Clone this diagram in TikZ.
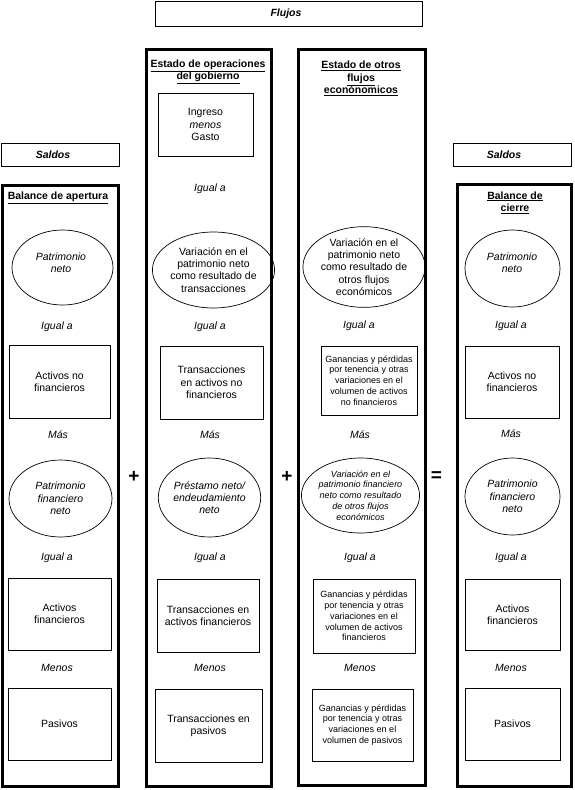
\documentclass[tikz,border=0pt]{standalone}
\usepackage{fontspec}
\setmainfont{Liberation Sans}
\usetikzlibrary{shapes.geometric}
\newcommand{\normtxt}{\fontsize{10.5}{12.3}\selectfont}
\newcommand{\smalltxt}{\fontsize{9}{10.8}\selectfont}
\tikzset{
  colbox/.style={draw, line width=3pt, inner sep=0pt},
  thinbox/.style={draw, line width=0.8pt, inner sep=0pt, align=center, font=\normtxt},
  ell/.style={ellipse, draw, line width=0.7pt, inner sep=0pt, align=center, font=\normtxt},
  word/.style={inner sep=0pt, align=center, font=\normtxt\itshape},
  head/.style={inner sep=0pt, align=center, font=\normtxt\bfseries},
  tag/.style={inner sep=0pt, font=\normtxt\bfseries\itshape},
  oper/.style={inner sep=0pt, font=\fontsize{19}{19}\selectfont\bfseries},
}
\begin{document}
\begin{tikzpicture}[x=1pt,y=-1pt]
\useasboundingbox (0,0) rectangle (574,790);
% header boxes
\node[thinbox, minimum width=267pt, minimum height=25pt] (flujos) at (288.5,13.5) {};
\node[tag] (flujost) at (286,13.5) {Flujos};
\node[thinbox, minimum width=118pt, minimum height=23pt] (saldosL) at (60,154.5) {};
\node[tag] (saldosLt) at (53,154.5) {Saldos};
\node[thinbox, minimum width=118pt, minimum height=23pt] (saldosR) at (512,154.5) {};
\node[tag] (saldosRt) at (504,154.5) {Saldos};
% columns
\node[colbox, minimum width=116.5pt, minimum height=601pt] (c1) at (60.25,485.5) {};
\node[colbox, minimum width=125pt, minimum height=737pt] (c2) at (208.5,417.5) {};
\node[colbox, minimum width=127pt, minimum height=736pt] (c3) at (361.5,417) {};
\node[colbox, minimum width=114pt, minimum height=602pt] (c4) at (514,485) {};
% column headers
\node[head] (h1) at (58,198) {\underline{Balance de apertura}};
\node[head] (h2) at (208,72) {\underline{Estado de operaciones}\\\underline{del gobierno}};
\node[head] (h3) at (361,78.5) {\underline{Estado de otros}\\\underline{flujos}\\\underline{econónomicos}};
\node[head] (h4) at (515,202.5) {\underline{Balance de}\\\underline{cierre}};
% column 1
\node[ell, minimum width=101pt, minimum height=75pt] (e1a) at (62.5,267.5) {};
\node[word] (e1at) at (61,262.5) {Patrimonio\\neto};
\node[word] (w1a) at (57,327) {Igual a};
\node[thinbox, minimum width=101pt, minimum height=73pt] (b1a) at (59.5,381.5) {Activos no\\financieros};
\node[word] (w1b) at (58,435) {Más};
\node[ell, font=\normtxt\itshape, minimum width=103pt, minimum height=77pt] (e1b) at (60.5,498.5) {Patrimonio\\financiero\\neto};
\node[word] (w1c) at (57,558) {Igual a};
\node[thinbox, minimum width=103pt, minimum height=72pt] (b1b) at (59.5,614) {Activos\\financieros};
\node[word] (w1d) at (57,668) {Menos};
\node[thinbox, minimum width=103pt, minimum height=72pt] (b1c) at (59.5,724) {Pasivos};
% column 2
\node[thinbox, minimum width=95pt, minimum height=63pt] (b2i) at (205.5,124.5) {Ingreso\\\textit{menos}\\Gasto};
\node[word] (w2i) at (210,189) {Igual a};
\node[ell, minimum width=103pt, minimum height=76pt] (e2a) at (213.5,270) {Variación en el\\patrimonio neto\\como resultado de\\transacciones};
\node[word] (w2a) at (210,327) {Igual a};
\node[thinbox, minimum width=103pt, minimum height=73pt] (b2a) at (211.5,382.5) {Transacciones\\en activos no\\financieros};
\node[word] (w2b) at (210,435) {Más};
\node[ell, font=\normtxt\itshape, minimum width=95pt, minimum height=79pt] (e2b) at (209.5,497.5) {Préstamo neto/\\endeudamiento\\neto};
\node[word] (w2c) at (210,558) {Igual a};
\node[thinbox, minimum width=102pt, minimum height=73pt] (b2b) at (208,615.5) {Transacciones en\\activos financieros};
\node[word] (w2d) at (210,668) {Menos};
\node[thinbox, minimum width=107pt, minimum height=73pt] (b2c) at (208.5,725.5) {Transacciones en\\pasivos};
% column 3
\node[ell, minimum width=104pt, minimum height=80pt] (e3a) at (364,267) {Variación en el\\patrimonio neto\\como resultado de\\otros flujos\\económicos};
\node[word] (w3a) at (359,326) {Igual a};
\node[thinbox, font=\smalltxt, minimum width=96pt, minimum height=69pt] (b3a) at (369,380.5) {Ganancias y pérdidas\\por tenencia y otras\\variaciones en el\\volumen de activos\\no financieros};
\node[word] (w3b) at (360,435) {Más};
\node[ell, font=\smalltxt\itshape, minimum width=101pt, minimum height=75pt] (e3b) at (360.5,495.5) {Variación en el\\patrimonio financiero\\neto como resultado\\de otros flujos\\económicos};
\node[word] (w3c) at (360,558) {Igual a};
\node[thinbox, font=\smalltxt, minimum width=102pt, minimum height=74pt] (b3b) at (364,616) {Ganancias y pérdidas\\por tenencia y otras\\variaciones en el\\volumen de activos\\financieros};
\node[word] (w3d) at (360,668) {Menos};
\node[thinbox, font=\smalltxt, minimum width=101pt, minimum height=72pt] (b3c) at (362.5,725) {Ganancias y pérdidas\\por tenencia y otras\\variaciones en el\\volumen de pasivos};
% column 4
\node[ell, minimum width=95pt, minimum height=77pt] (e4a) at (512.5,268.5) {};
\node[word] (e4at) at (512,262.5) {Patrimonio\\neto};
\node[word] (w4a) at (511,326) {Igual a};
\node[thinbox, minimum width=94pt, minimum height=72pt] (b4a) at (512,382) {Activos no\\financieros};
\node[word] (w4b) at (511,434) {Más};
\node[ell, font=\normtxt\itshape, minimum width=95pt, minimum height=77pt] (e4b) at (512.5,496.5) {Patrimonio\\financiero\\neto};
\node[word] (w4c) at (511,558) {Igual a};
\node[thinbox, minimum width=95pt, minimum height=71pt] (b4b) at (512.5,614.5) {Activos\\financieros};
\node[word] (w4d) at (511,668) {Menos};
\node[thinbox, minimum width=95pt, minimum height=72pt] (b4c) at (512.5,724) {Pasivos};
% operators
\node[oper] (p1) at (134,476.5) {+};
\node[oper] (p2) at (287,476.5) {+};
\node[oper] (eq) at (436.5,477) {=};
\end{tikzpicture}
\end{document}
